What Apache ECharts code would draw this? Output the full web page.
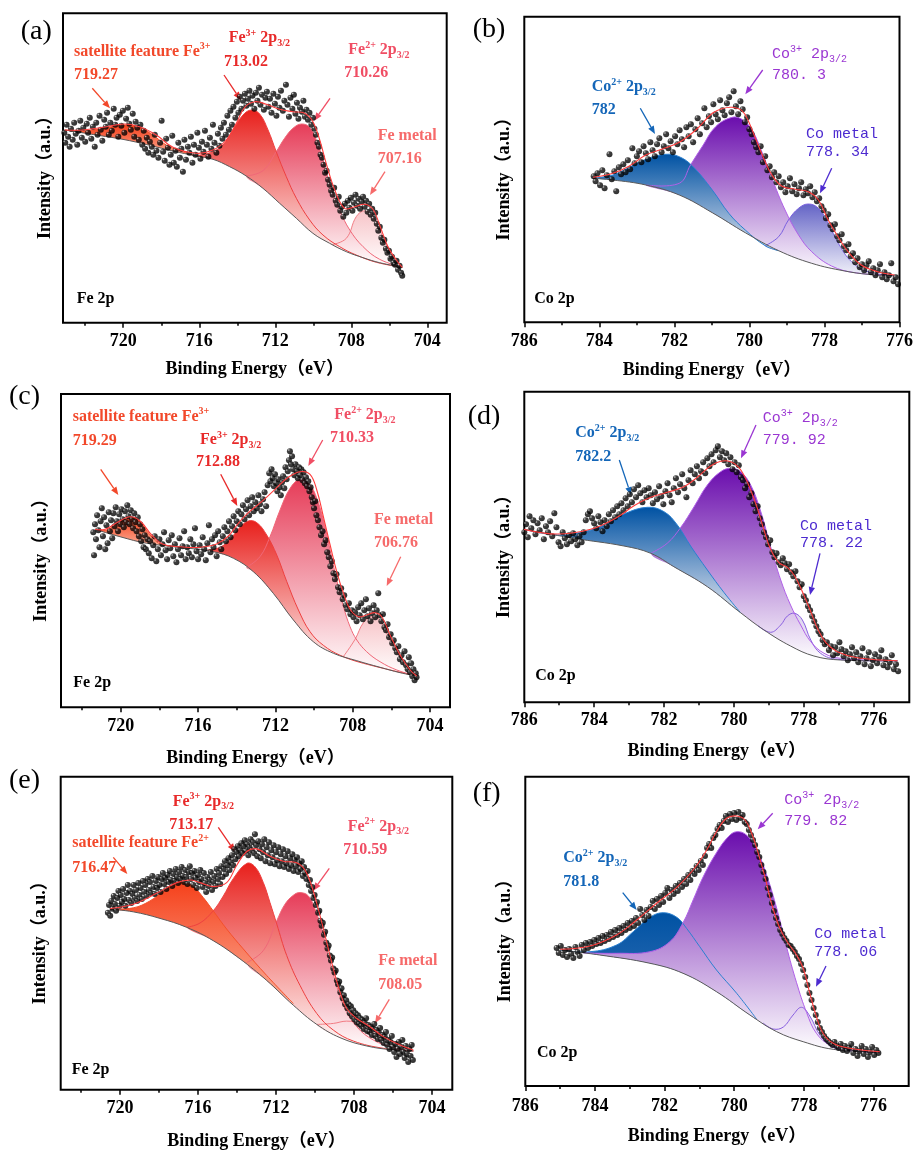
<!DOCTYPE html>
<html><head><meta charset="utf-8">
<script src="https://cdn.jsdelivr.net/npm/echarts@6/dist/echarts.min.js"></script>
<style>html,body{margin:0;padding:0;background:#fff}#c{width:916px;height:1151px}</style>
</head><body><div id="c"></div>
<script>
// ---------- tick labels ----------
const feTicks = [720, 716, 712, 708, 704];
const feMinor = [722, 718, 714, 710, 706];
const coTicks = [786, 784, 782, 780, 778, 776];
const coMinor = [785, 783, 781, 779, 777];

// ---------- panel (a) Fe 2p ----------
const aBg = [[723.08,192.7],[721.42,187.7],[719.66,182.0],[717.38,171.7],[716.16,166.7],[715.28,163.4],[714.40,156.0],[713.53,146.7],[712.65,134.4],[711.77,119.4],[710.89,104.4],[710.02,89.4],[709.14,79.4],[708.26,71.0],[707.38,65.0],[706.51,60.0],[705.32,55.4]];
const aSat = [[723.08,192.7],[722.12,191.7],[721.07,194.4],[719.93,197.7],[719.14,195.4],[718.44,187.7],[717.74,177.7],[717.03,172.0],[716.16,166.7]];
const aFe3 = [[716.16,166.7],[715.28,171.0],[714.75,177.7],[714.23,192.7],[713.70,207.7],[713.26,212.7],[712.82,208.7],[712.38,192.7],[711.95,171.0],[711.42,146.0],[710.89,124.4],[710.19,102.7],[709.49,87.7],[708.61,76.0],[707.74,67.7],[706.68,60.4],[705.32,55.4]];
const aFe2 = [[713.53,146.7],[712.65,152.0],[711.95,171.0],[711.51,184.4],[711.07,194.4],[710.63,198.7],[710.19,195.4],[709.84,182.7],[709.49,162.7],[709.14,139.4],[708.61,112.7],[708.08,92.7],[707.38,76.0],[706.51,63.4],[705.32,55.4]];
const aMet = [[709.00,78.1],[708.26,84.4],[707.74,106.0],[707.30,112.0],[706.86,106.7],[706.42,89.4],[705.98,71.0],[705.63,61.0],[705.32,55.4]];
const aEnv = [[723.08,192.7],[722.12,192.7],[721.07,195.4],[719.93,198.7],[719.14,196.0],[718.26,187.7],[717.38,175.4],[716.16,169.4],[715.28,172.7],[714.58,182.7],[714.05,199.4],[713.61,215.4],[713.08,221.0],[712.47,218.4],[711.77,213.4],[711.07,211.0],[710.45,209.4],[710.02,201.0],[709.66,182.7],[709.32,159.4],[708.87,132.7],[708.35,114.4],[707.82,116.0],[707.30,118.4],[706.86,113.4],[706.51,97.7],[706.07,76.0],[705.63,62.7],[705.32,55.4]];
const aPts = [[723.10,190],[723.05,180],[722.98,198],[722.9,186],[722.82,176],[722.75,194],[722.66,183],[722.58,200],[722.5,189],[722.42,178],[722.35,192],[722.26,202],[722.18,185],[722.1,195],[722.0,181],[721.92,199],[721.85,190],[721.76,205],[721.68,184],[721.6,196],[721.5,176],[721.42,200],[721.35,188],[721.25,207],[721.18,193],[721.1,182],[721.0,203],[720.92,196],[720.85,210],[720.76,188],[720.68,200],[720.6,192],[720.5,214],[720.42,198],[720.35,205],[720.26,186],[720.18,208],[720.1,197],[720.02,212],[719.94,190],[719.85,204],[719.76,215],[719.68,199],[719.6,193],[719.5,209],[719.42,186],[719.35,201],[719.26,195],[719.18,183],[719.1,198],[719.0,178],[718.92,192],[718.85,174],[718.76,185],[718.68,170],[718.6,181],[718.5,176],[718.42,168],[718.34,188],[718.25,172],[718.15,165],[718.06,180],[717.98,202],[717.9,171],[717.82,162],[717.74,184],[717.65,175],[717.57,158],[717.5,168],[717.42,187],[717.34,160],[717.25,172],[717.18,156],[717.1,180],[717.02,165],[716.94,174],[716.86,151],[716.78,183],[716.7,163],[716.6,176],[716.52,170],[716.44,186],[716.36,160],[716.28,178],[716.2,168],[716.1,190],[716.02,175],[715.94,164],[715.86,181],[715.78,171],[715.7,192],[715.6,178],[715.52,166],[715.44,185],[715.36,174],[715.28,198],[715.2,180],[715.1,170],[715.02,189],[714.94,177],[714.86,195],[714.78,184],[714.7,200],[714.6,188],[714.52,207],[714.44,193],[714.36,212],[714.28,198],[714.2,216],[714.1,205],[714.02,221],[713.94,210],[713.86,226],[713.78,214],[713.7,222],[713.6,229],[713.52,217],[713.44,224],[713.36,232],[713.28,219],[713.2,227],[713.1,214],[713.02,230],[712.94,222],[712.86,235],[712.78,218],[712.7,228],[712.6,213],[712.52,225],[712.44,231],[712.36,216],[712.28,224],[712.2,210],[712.1,229],[712.02,219],[711.94,207],[711.86,226],[711.78,215],[711.7,232],[711.6,212],[711.52,222],[711.44,238],[711.36,218],[711.28,206],[711.2,225],[711.1,214],[711.02,228],[710.94,209],[710.86,220],[710.78,204],[710.7,215],[710.6,211],[710.52,222],[710.44,206],[710.36,213],[710.28,203],[710.2,210],[710.1,198],[710.02,205],[709.94,194],[709.86,188],[709.78,180],[709.7,176],[709.62,168],[709.54,165],[709.46,158],[709.38,150],[709.3,152],[709.22,143],[709.14,138],[709.06,132],[708.98,128],[708.9,135],[708.82,122],[708.74,118],[708.66,126],[708.58,112],[708.5,116],[708.42,106],[708.34,119],[708.26,110],[708.18,122],[708.1,115],[708.02,125],[707.94,112],[707.86,120],[707.78,128],[707.7,117],[707.62,124],[707.54,114],[707.46,121],[707.38,126],[707.3,116],[707.22,122],[707.14,111],[707.06,119],[706.98,108],[706.9,114],[706.82,104],[706.74,110],[706.66,99],[706.58,92],[706.5,96],[706.42,85],[706.34,80],[706.26,83],[706.18,74],[706.1,70],[706.02,72],[705.94,64],[705.86,66],[705.78,60],[705.7,58],[705.62,62],[705.54,53],[705.46,57],[705.38,50],[705.32,47]];

// ---------- panel (b) Co 2p ----------
const bBg = [[784.17,144.0],[783.64,142.3],[782.76,137.3],[781.87,127.3],[780.99,109.6],[780.11,89.6],[779.22,71.6],[778.34,59.0],[777.46,51.3],[776.84,48.0],[776.13,46.6]];
const bCo2 = [[784.17,144.0],[783.64,147.3],[783.20,155.0],[782.76,163.0],[782.23,168.0],[781.87,165.6],[781.52,156.3],[780.99,132.3],[780.55,109.0],[780.11,92.3],[779.58,76.6],[779.22,71.6]];
const bCo3 = [[782.76,137.3],[781.87,139.0],[781.57,157.3],[781.26,175.6],[780.90,195.6],[780.46,205.0],[780.20,203.0],[779.93,192.3],[779.67,170.6],[779.40,144.0],[779.05,112.3],[778.69,87.3],[778.34,70.6],[777.81,56.3],[777.19,49.6],[776.13,46.6]];
const bMet = [[779.58,76.6],[779.22,85.6],[778.96,102.3],[778.69,114.0],[778.43,118.3],[778.16,114.0],[777.90,99.0],[777.63,79.0],[777.28,60.6],[776.84,50.6],[776.13,46.6]];
const bEnv = [[784.17,145.0],[783.64,149.0],[783.20,156.3],[782.76,167.3],[782.32,173.3],[781.87,180.0],[781.43,192.3],[780.99,209.0],[780.73,213.6],[780.46,215.0],[780.20,211.6],[780.02,200.6],[779.84,184.0],[779.62,164.0],[779.40,147.3],[779.14,136.3],[778.78,133.0],[778.43,130.6],[778.16,122.3],[777.90,102.3],[777.63,85.0],[777.37,70.6],[777.02,57.3],[776.58,50.6],[776.13,47.3]];
const bPts = [[784.15,146],[784.1,141],[784.05,149],[783.98,137],[783.92,152],[783.86,134],[783.8,147],[783.73,168],[783.67,143],[783.6,151],[783.55,131],[783.48,155],[783.42,148],[783.36,158],[783.3,150],[783.24,162],[783.18,153],[783.12,174],[783.06,159],[783.0,166],[782.94,171],[782.88,160],[782.82,176],[782.76,169],[782.7,163],[782.64,180],[782.58,172],[782.52,166],[782.46,178],[782.4,184],[782.34,170],[782.28,176],[782.22,188],[782.16,174],[782.1,181],[782.04,170],[781.98,186],[781.92,178],[781.86,192],[781.8,183],[781.74,175],[781.68,195],[781.62,186],[781.56,198],[781.5,180],[781.44,193],[781.38,204],[781.32,188],[781.26,199],[781.2,214],[781.14,195],[781.08,206],[781.02,200],[780.96,218],[780.9,208],[780.84,203],[780.78,222],[780.72,212],[780.66,207],[780.6,219],[780.54,225],[780.48,210],[780.42,231],[780.36,216],[780.3,208],[780.24,221],[780.18,213],[780.12,200],[780.06,205],[780.0,193],[779.94,188],[779.88,180],[779.82,175],[779.76,170],[779.7,176],[779.64,160],[779.58,166],[779.52,152],[779.46,156],[779.4,145],[779.34,150],[779.28,140],[779.22,146],[779.16,135],[779.1,140],[779.04,130],[778.98,136],[778.92,144],[778.86,131],[778.8,138],[778.74,128],[778.68,134],[778.62,140],[778.56,127],[778.5,133],[778.44,129],[778.38,136],[778.32,125],[778.26,130],[778.2,121],[778.14,124],[778.08,116],[778.02,112],[777.96,104],[777.9,108],[777.84,97],[777.78,93],[777.72,98],[777.66,86],[777.6,82],[777.54,88],[777.48,76],[777.42,72],[777.36,78],[777.3,66],[777.24,69],[777.18,60],[777.12,64],[777.06,55],[777.0,58],[776.94,52],[776.88,57],[776.82,61],[776.76,50],[776.7,54],[776.64,47],[776.58,52],[776.52,58],[776.46,45],[776.4,50],[776.34,43],[776.28,47],[776.22,59],[776.16,41],[776.1,45],[776.04,38]];

// ---------- panel (c) Fe 2p ----------
const cBg = [[721.33,178.0],[720.04,170.6],[718.65,164.0],[716.93,160.0],[715.21,155.6],[714.17,149.0],[713.14,135.6],[712.11,114.0],[711.07,87.3],[710.04,65.6],[709.00,54.0],[707.79,46.6],[706.59,40.0],[705.55,34.6],[704.69,31.3]];
const cSat = [[721.33,178.0],[720.72,177.3],[720.21,184.0],[719.69,188.6],[719.35,189.6],[719.00,185.6],[718.48,172.3],[717.97,163.3],[717.45,161.3]];
const cFe3 = [[715.56,157.0],[714.86,160.0],[714.35,168.0],[713.83,180.0],[713.40,186.3],[712.96,184.6],[712.45,172.3],[711.93,152.3],[711.41,125.6],[710.81,97.3],[710.21,75.6],[709.52,62.0],[708.65,52.0],[707.45,44.0],[704.69,31.3]];
const cFe2 = [[713.49,140.0],[712.80,150.6],[712.28,170.6],[711.76,197.3],[711.24,219.0],[710.72,228.0],[710.21,222.3],[709.86,209.0],[709.52,187.3],[709.17,157.3],[708.83,127.3],[708.48,100.6],[708.14,80.6],[707.79,67.3],[707.28,55.6],[706.59,45.6],[705.72,37.3],[704.69,31.3]];
const cMet = [[708.48,50.9],[707.88,68.0],[707.45,84.6],[707.02,90.6],[706.59,87.3],[706.16,70.6],[705.55,50.6],[705.03,37.3],[704.69,31.3]];
const cEnv = [[721.33,178.0],[720.81,178.0],[720.21,184.6],[719.52,190.6],[719.00,186.3],[718.40,172.3],[717.80,163.0],[716.93,160.6],[715.90,160.0],[715.04,163.3],[714.43,171.3],[713.92,184.0],[713.40,194.6],[712.71,205.6],[712.02,218.0],[711.33,230.0],[710.72,235.6],[710.21,233.0],[709.86,217.3],[709.52,190.6],[709.17,162.3],[708.83,135.6],[708.48,114.0],[708.14,98.0],[707.71,90.6],[707.28,92.3],[706.85,94.6],[706.50,90.6],[706.07,72.3],[705.55,52.3],[705.03,37.3],[704.69,31.3]];
const cPts = [[721.42,175],[721.38,152],[721.33,183],[721.28,168],[721.22,192],[721.16,177],[721.1,160],[721.04,186],[720.98,199],[720.92,171],[720.86,190],[720.8,158],[720.74,182],[720.68,164],[720.62,195],[720.56,176],[720.5,187],[720.44,169],[720.38,194],[720.32,181],[720.26,200],[720.2,186],[720.14,176],[720.08,193],[720.02,183],[719.96,198],[719.9,188],[719.84,180],[719.78,196],[719.72,185],[719.66,202],[719.6,191],[719.54,183],[719.48,197],[719.42,188],[719.36,179],[719.3,194],[719.24,185],[719.18,176],[719.12,190],[719.06,171],[719.0,183],[718.94,166],[718.88,178],[718.82,160],[718.76,172],[718.7,158],[718.62,168],[718.55,154],[718.48,166],[718.4,149],[718.32,162],[718.24,171],[718.16,146],[718.08,158],[718.0,168],[717.92,152],[717.84,163],[717.76,175],[717.68,157],[717.6,148],[717.52,167],[717.44,159],[717.36,172],[717.28,151],[717.2,163],[717.12,145],[717.04,158],[716.96,169],[716.88,152],[716.8,161],[716.72,176],[716.64,148],[716.56,160],[716.48,154],[716.4,168],[716.32,150],[716.24,163],[716.16,179],[716.08,156],[716.0,148],[715.92,162],[715.84,153],[715.76,170],[715.68,158],[715.6,147],[715.52,164],[715.44,182],[715.36,155],[715.28,168],[715.2,160],[715.12,172],[715.04,151],[714.96,176],[714.88,165],[714.8,158],[714.72,171],[714.64,180],[714.56,166],[714.48,176],[714.4,186],[714.32,170],[714.24,181],[714.16,191],[714.08,177],[714.0,186],[713.92,196],[713.84,183],[713.76,193],[713.68,202],[713.6,188],[713.52,198],[713.44,207],[713.36,192],[713.28,201],[713.2,210],[713.12,196],[713.04,205],[712.96,199],[712.88,212],[712.8,203],[712.72,196],[712.64,208],[712.56,215],[712.48,201],[712.4,222],[712.32,234],[712.26,226],[712.2,238],[712.14,229],[712.08,221],[712.02,233],[711.96,224],[711.9,216],[711.84,228],[711.78,220],[711.72,212],[711.66,225],[711.6,231],[711.54,219],[711.48,240],[711.42,228],[711.36,236],[711.3,247],[711.25,256],[711.2,243],[711.14,251],[711.08,238],[711.02,232],[710.96,243],[710.9,236],[710.84,229],[710.78,240],[710.72,232],[710.66,238],[710.6,227],[710.54,235],[710.48,224],[710.42,230],[710.36,221],[710.3,226],[710.24,216],[710.18,220],[710.12,210],[710.06,205],[710.0,199],[709.94,206],[709.88,192],[709.8,187],[709.72,180],[709.64,172],[709.56,176],[709.48,163],[709.4,167],[709.32,155],[709.24,150],[709.16,141],[709.08,146],[709.0,134],[708.92,128],[708.84,133],[708.76,120],[708.68,115],[708.6,119],[708.52,108],[708.44,112],[708.36,102],[708.28,98],[708.2,104],[708.12,93],[708.04,97],[707.96,90],[707.88,95],[707.8,86],[707.72,100],[707.64,92],[707.56,104],[707.48,88],[707.4,97],[707.32,108],[707.24,91],[707.16,99],[707.08,86],[707.0,94],[706.92,102],[706.84,90],[706.76,97],[706.68,114],[706.6,92],[706.52,86],[706.44,93],[706.36,80],[706.28,77],[706.2,83],[706.12,70],[706.04,73],[705.96,64],[705.88,67],[705.8,59],[705.72,55],[705.64,61],[705.56,48],[705.48,52],[705.4,45],[705.32,56],[705.24,42],[705.16,38],[705.1,50],[705.04,35],[704.98,44],[704.92,31],[704.86,38],[704.8,27],[704.74,34],[704.7,30]];

// ---------- panel (d) Co 2p ----------
const dBg = [[786.01,173.0],[784.58,164.0],[783.15,156.3],[782.38,149.0],[781.72,135.6],[780.76,115.6],[779.81,89.6],[779.14,72.3],[778.38,56.3],[777.71,46.3],[776.95,42.3],[775.32,41.6]];
const dCo2 = [[786.01,173.0],[785.06,167.3],[784.29,170.6],[783.72,177.3],[783.15,188.3],[782.48,195.0],[782.00,190.6],[781.62,177.3],[781.24,156.3],[780.76,132.3],[780.28,109.6],[779.81,89.6]];
const dCo3 = [[782.38,149.0],[781.91,159.0],[781.52,175.0],[781.14,195.6],[780.76,217.3],[780.38,230.6],[780.09,234.0],[779.81,230.6],[779.52,217.3],[779.23,190.6],[778.95,155.6],[778.66,122.3],[778.38,97.3],[778.09,77.3],[777.80,60.6],[777.42,49.0],[776.95,44.0],[775.32,41.6]];
const dMet = [[779.33,77.2],[778.95,70.0],[778.66,77.3],[778.47,86.3],[778.26,89.0],[778.04,82.3],[777.80,62.3],[777.52,49.0],[777.04,43.0],[775.32,41.6]];
const dEnv = [[786.01,173.0],[785.06,168.3],[784.10,173.0],[783.34,185.0],[782.86,196.6],[782.38,205.0],[781.91,210.0],[781.43,215.6],[781.05,225.0],[780.67,236.3],[780.38,241.0],[780.09,240.6],[779.86,235.0],[779.62,220.6],[779.33,194.0],[779.14,172.3],[778.95,153.0],[778.71,139.6],[778.47,135.0],[778.26,126.3],[778.04,110.6],[777.80,90.6],[777.61,74.0],[777.37,59.6],[777.04,50.6],[776.47,44.6],[775.32,41.6]];
const dPts = [[786.0,170],[785.95,178],[785.9,165],[785.85,186],[785.8,174],[785.74,182],[785.68,168],[785.62,179],[785.56,172],[785.5,184],[785.44,163],[785.38,176],[785.32,170],[785.26,181],[785.2,166],[785.14,189],[785.08,175],[785.02,160],[784.96,156],[784.9,170],[784.84,164],[784.78,158],[784.72,167],[784.66,161],[784.6,169],[784.54,163],[784.48,157],[784.42,166],[784.36,160],[784.3,170],[784.24,182],[784.18,188],[784.12,191],[784.06,184],[784.0,179],[783.94,174],[783.88,186],[783.82,180],[783.76,171],[783.7,182],[783.64,176],[783.58,188],[783.52,181],[783.46,192],[783.4,185],[783.34,196],[783.28,188],[783.22,199],[783.16,192],[783.1,204],[783.04,196],[782.98,208],[782.92,200],[782.86,213],[782.8,205],[782.74,217],[782.68,209],[782.62,200],[782.56,212],[782.5,205],[782.44,214],[782.38,207],[782.32,199],[782.26,210],[782.2,203],[782.14,216],[782.08,206],[782.02,198],[781.96,211],[781.9,219],[781.84,207],[781.78,200],[781.72,214],[781.66,224],[781.6,210],[781.54,218],[781.48,228],[781.42,214],[781.36,205],[781.3,222],[781.24,232],[781.18,219],[781.12,228],[781.06,236],[781.0,224],[780.94,231],[780.88,240],[780.82,229],[780.76,244],[780.7,236],[780.64,248],[780.58,240],[780.52,252],[780.46,256],[780.4,245],[780.34,251],[780.28,242],[780.22,249],[780.16,238],[780.1,245],[780.04,233],[779.98,240],[779.92,230],[779.86,237],[779.8,225],[779.74,222],[779.68,214],[779.62,218],[779.56,205],[779.5,209],[779.44,198],[779.38,191],[779.32,196],[779.26,184],[779.2,178],[779.14,170],[779.08,165],[779.02,158],[778.96,162],[778.9,150],[778.84,145],[778.78,149],[778.72,140],[778.66,137],[778.6,144],[778.54,139],[778.48,133],[778.42,138],[778.36,130],[778.3,126],[778.24,131],[778.18,121],[778.12,115],[778.06,118],[778.0,106],[777.94,102],[777.88,96],[777.82,92],[777.76,86],[777.7,81],[777.64,76],[777.58,71],[777.52,68],[777.46,62],[777.4,58],[777.34,60],[777.28,52],[777.22,56],[777.16,47],[777.1,55],[777.04,49],[776.98,60],[776.92,53],[776.86,46],[776.8,51],[776.74,42],[776.68,48],[776.62,55],[776.56,44],[776.5,50],[776.44,40],[776.38,46],[776.32,54],[776.26,38],[776.2,44],[776.14,50],[776.08,36],[776.02,42],[775.96,48],[775.9,39],[775.84,45],[775.78,52],[775.72,37],[775.66,43],[775.6,35],[775.54,40],[775.48,47],[775.42,33],[775.36,38],[775.3,31]];

// ---------- panel (e) Fe 2p ----------
const eBg = [[720.51,181.7],[719.32,179.0],[717.95,172.4],[716.58,163.4],[715.22,150.0],[713.85,131.7],[712.48,110.0],[711.11,85.0],[709.91,65.7],[708.72,52.4],[707.35,44.0],[705.98,40.0],[704.96,39.0]];
const eSat = [[720.51,181.7],[719.32,183.0],[718.46,190.0],[717.78,200.0],[717.18,207.7],[716.75,209.0],[716.24,204.4],[715.73,193.4],[715.22,180.0],[714.53,161.7],[713.68,141.7],[712.48,115.0],[711.11,86.7]];
const eFe3 = [[716.58,163.4],[715.90,167.7],[715.22,180.0],[714.70,195.0],[714.19,212.4],[713.50,227.7],[713.08,224.4],[712.65,208.4],[712.31,188.4],[711.96,166.7],[711.45,135.0],[710.77,105.0],[709.91,76.7],[709.06,60.0],[708.04,49.0],[706.50,41.7],[704.96,39.0]];
const eFe2 = [[713.50,128.0],[712.65,140.0],[711.96,170.0],[711.54,186.7],[711.11,195.7],[710.77,198.4],[710.34,195.0],[710.00,181.7],[709.66,161.7],[709.32,135.0],[708.97,110.0],[708.55,85.0],[707.86,63.4],[707.01,50.0],[705.98,42.4],[704.96,39.0]];
const eMet = [[709.91,65.7],[709.06,66.7],[708.38,69.0],[707.69,66.7],[707.01,61.0],[706.32,52.4],[705.64,45.0],[704.96,39.0]];
const eEnv = [[720.51,182.4],[719.32,186.7],[718.12,197.7],[717.09,208.4],[716.41,211.0],[715.90,208.4],[715.22,204.4],[714.53,208.4],[714.02,225.7],[713.50,239.7],[712.99,242.4],[712.31,235.0],[711.62,230.0],[710.94,228.4],[710.51,221.0],[710.17,205.0],[709.83,181.7],[709.40,148.4],[709.06,121.7],[708.72,98.4],[708.38,81.7],[707.86,71.7],[707.18,63.4],[706.50,53.4],[705.64,45.0],[704.96,40.0]];
const ePts = [[720.62,178],[720.56,186],[720.5,175],[720.44,190],[720.38,182],[720.32,195],[720.26,187],[720.2,180],[720.14,193],[720.08,200],[720.02,185],[719.96,196],[719.9,189],[719.84,202],[719.78,192],[719.72,185],[719.66,198],[719.6,206],[719.54,191],[719.48,200],[719.42,188],[719.36,197],[719.3,206],[719.24,193],[719.18,201],[719.12,190],[719.06,208],[719.0,196],[718.94,203],[718.88,192],[718.82,210],[718.76,199],[718.7,206],[718.64,195],[718.58,212],[718.52,201],[718.46,209],[718.4,198],[718.34,215],[718.28,204],[718.22,197],[718.16,210],[718.1,203],[718.04,214],[717.98,206],[717.92,199],[717.86,212],[717.8,218],[717.74,207],[717.68,213],[717.62,202],[717.56,216],[717.5,209],[717.44,220],[717.38,211],[717.32,205],[717.26,217],[717.2,210],[717.14,222],[717.08,214],[717.02,208],[716.96,219],[716.9,212],[716.84,224],[716.78,215],[716.72,209],[716.66,221],[716.6,214],[716.54,207],[716.48,219],[716.42,225],[716.36,212],[716.3,218],[716.24,206],[716.18,220],[716.12,213],[716.06,203],[716.0,216],[715.94,209],[715.88,221],[715.82,212],[715.76,204],[715.7,218],[715.64,208],[715.58,199],[715.52,214],[715.46,205],[715.4,211],[715.34,219],[715.28,201],[715.22,209],[715.16,215],[715.1,205],[715.04,222],[714.98,212],[714.92,218],[714.86,207],[714.8,225],[714.74,214],[714.68,222],[714.62,230],[714.56,217],[714.5,226],[714.44,233],[714.38,221],[714.32,229],[714.26,236],[714.2,226],[714.14,242],[714.08,232],[714.02,239],[713.96,245],[713.9,235],[713.84,241],[713.78,248],[713.72,238],[713.66,245],[713.6,251],[713.54,240],[713.48,247],[713.42,236],[713.36,244],[713.3,252],[713.24,241],[713.18,249],[713.12,238],[713.08,257],[713.02,246],[712.96,235],[712.9,250],[712.84,242],[712.78,233],[712.72,247],[712.66,239],[712.6,252],[712.54,230],[712.48,244],[712.42,236],[712.36,249],[712.3,228],[712.24,241],[712.18,234],[712.12,246],[712.06,227],[712.0,239],[711.94,231],[711.88,244],[711.82,225],[711.76,237],[711.7,230],[711.64,242],[711.58,224],[711.52,235],[711.46,228],[711.4,240],[711.34,222],[711.28,233],[711.22,226],[711.16,237],[711.1,220],[711.04,231],[710.98,225],[710.92,234],[710.86,219],[710.8,228],[710.74,222],[710.68,230],[710.62,215],[710.56,224],[710.5,218],[710.44,212],[710.38,220],[710.32,206],[710.26,211],[710.2,200],[710.14,204],[710.08,193],[710.02,196],[709.96,186],[709.9,189],[709.84,178],[709.78,180],[709.72,170],[709.66,165],[709.6,168],[709.54,156],[709.48,159],[709.42,148],[709.36,142],[709.3,145],[709.24,135],[709.18,130],[709.12,133],[709.06,122],[709.0,118],[708.94,120],[708.88,110],[708.82,106],[708.76,109],[708.7,98],[708.64,102],[708.58,92],[708.52,95],[708.46,86],[708.4,90],[708.34,82],[708.28,86],[708.22,77],[708.16,84],[708.1,74],[708.04,80],[707.98,71],[707.92,77],[707.86,68],[707.8,75],[707.74,66],[707.68,72],[707.62,64],[707.56,70],[707.5,61],[707.44,67],[707.38,72],[707.32,59],[707.26,65],[707.2,58],[707.14,63],[707.08,55],[707.02,61],[706.96,66],[706.9,54],[706.84,60],[706.78,51],[706.72,57],[706.66,62],[706.6,50],[706.54,55],[706.48,47],[706.42,53],[706.36,58],[706.3,45],[706.24,50],[706.18,41],[706.12,48],[706.06,54],[706.0,43],[705.94,38],[705.88,46],[705.82,33],[705.76,41],[705.7,48],[705.64,36],[705.58,43],[705.52,50],[705.46,38],[705.4,32],[705.34,44],[705.28,36],[705.22,28],[705.16,41],[705.1,34],[705.04,45],[704.98,30]];

// ---------- panel (f) Co 2p ----------
const fBg = [[785.00,136.0],[783.86,131.0],[782.42,122.7],[781.47,112.7],[780.51,94.3],[779.55,71.0],[778.78,54.3],[778.02,44.3],[777.16,36.7],[775.82,33.7]];
const fCo2 = [[785.00,136.0],[784.14,134.3],[783.38,141.0],[782.90,154.3],[782.42,168.7],[782.04,173.3],[781.65,168.7],[781.37,157.7],[780.99,139.3],[780.51,116.0],[779.93,92.7],[779.36,67.0]];
const fCo3 = [[784.34,133.1],[783.38,132.7],[782.42,134.3],[781.85,144.3],[781.47,163.3],[781.18,186.0],[780.89,209.3],[780.51,233.3],[780.17,249.3],[779.93,254.3],[779.65,251.0],[779.36,236.7],[779.07,211.0],[778.78,177.7],[778.50,139.3],[778.21,103.3],[777.92,73.3],[777.64,52.7],[777.25,41.0],[776.68,36.0],[775.82,33.7]];
const fMet = [[779.17,63.0],[778.88,57.0],[778.59,59.0],[778.31,71.0],[778.07,78.7],[777.83,70.0],[777.54,51.0],[777.16,38.7],[776.68,35.0],[775.82,33.7]];
const fEnv = [[785.00,136.7],[784.14,140.0],[783.38,151.0],[782.80,166.0],[782.23,182.7],[781.65,198.7],[781.18,216.0],[780.79,236.0],[780.51,254.3],[780.22,267.7],[779.93,270.0],[779.69,266.0],[779.50,252.7],[779.31,232.7],[779.12,209.3],[778.93,182.7],[778.69,157.7],[778.45,142.7],[778.21,131.0],[778.02,117.7],[777.83,92.7],[777.64,69.3],[777.45,52.7],[777.16,42.7],[776.68,37.7],[775.82,34.3]];
const fPts = [[785.1,138],[785.04,133],[784.98,140],[784.92,131],[784.86,136],[784.8,129],[784.74,137],[784.68,132],[784.62,128],[784.56,139],[784.5,134],[784.44,130],[784.38,141],[784.32,136],[784.26,143],[784.2,138],[784.14,144],[784.08,140],[784.02,146],[783.96,142],[783.9,148],[783.84,143],[783.78,150],[783.72,145],[783.66,151],[783.6,147],[783.54,154],[783.48,149],[783.42,156],[783.36,151],[783.3,158],[783.24,153],[783.18,160],[783.12,156],[783.06,163],[783.0,158],[782.94,165],[782.88,160],[782.82,168],[782.76,163],[782.7,177],[782.64,171],[782.58,166],[782.52,176],[782.46,170],[782.4,179],[782.34,185],[782.28,177],[782.22,187],[782.16,181],[782.1,190],[782.04,184],[781.98,193],[781.92,198],[781.86,188],[781.8,196],[781.74,192],[781.68,200],[781.62,195],[781.56,203],[781.5,199],[781.44,207],[781.38,202],[781.32,211],[781.26,206],[781.2,215],[781.14,212],[781.08,220],[781.02,216],[780.96,225],[780.9,221],[780.84,230],[780.78,238],[780.72,242],[780.66,238],[780.6,248],[780.54,251],[780.48,257],[780.42,261],[780.36,258],[780.3,265],[780.24,270],[780.18,264],[780.12,272],[780.06,267],[780.0,273],[779.94,266],[779.88,274],[779.82,268],[779.76,271],[779.7,264],[779.64,262],[779.58,256],[779.52,251],[779.46,246],[779.4,241],[779.34,234],[779.28,229],[779.22,221],[779.16,214],[779.1,207],[779.04,198],[778.98,191],[778.92,183],[778.86,175],[778.8,168],[778.74,162],[778.68,156],[778.62,152],[778.56,148],[778.5,145],[778.44,141],[778.38,140],[778.32,137],[778.26,134],[778.2,130],[778.14,127],[778.08,122],[778.02,116],[777.96,109],[777.9,101],[777.84,93],[777.78,86],[777.72,78],[777.66,71],[777.6,64],[777.54,58],[777.48,54],[777.42,50],[777.36,47],[777.3,45],[777.24,43],[777.18,41],[777.12,44],[777.06,40],[777.0,38],[776.94,42],[776.88,36],[776.82,40],[776.76,35],[776.7,38],[776.64,42],[776.58,33],[776.52,37],[776.46,30],[776.4,35],[776.34,40],[776.28,32],[776.22,37],[776.16,29],[776.1,34],[776.04,39],[775.98,31],[775.92,36],[775.86,33]];

// ---------- styles ----------
const SERIF = "'Liberation Serif','Times New Roman','Noto Sans CJK SC',serif";
const MONO = "'Liberation Mono','DejaVu Sans Mono',monospace";
const SM = 0.4;
const PK = {
  sat: {top:'#f5401a', bot:'#fbae98', line:'#f5502a'},
  fe3: {top:'#e8201c', bot:'#ffffff', line:'#ee4040'},
  fe2: {top:'#e63c58', bot:'#ffffff', line:'#f06878'},
  feM: {top:'#f7c4c8', bot:'#ffffff', line:'#f27c84'},
  co2: {top:'#0052a3', bot:'#dde2ee', line:'#2a80d0'},
  co2f:{top:'#0052a3', bot:'#3a74b8', line:'#2a80d0'},
  co3: {top:'#6a0dad', bot:'#ffffff', line:'#b060e8'},
  coMb:{top:'#6464c6', bot:'#f2f2fa', line:'#7a60e0'},
  coM: {top:'#dcd4ee', bot:'#f6f4fa', line:'#8a60e0'}
};

const panels = [
  {g:{left:63,top:13.3,width:383.7,height:309.4}, xmin:702.98, xmax:723.17, major:feTicks, minor:feMinor,
   bg:aBg, env:aEnv, pts:aPts, peaks:[[aMet,PK.feM],[aFe2,PK.fe2],[aFe3,PK.fe3],[aSat,PK.sat]], lm:10, ng:38, yg:9},
  {g:{left:524.3,top:16.7,width:377.4,height:305.6}, xmin:776, xmax:786, major:coTicks, minor:coMinor,
   bg:bBg, env:bEnv, pts:bPts, peaks:[[bMet,PK.coMb],[bCo3,PK.co3],[bCo2,PK.co2]], lm:10.4, ng:38.7, yg:11},
  {g:{left:61,top:394,width:389,height:313.3}, xmin:702.97, xmax:723.09, major:feTicks, minor:feMinor,
   bg:cBg, env:cEnv, pts:cPts, peaks:[[cMet,PK.feM],[cFe2,PK.fe2],[cFe3,PK.fe3],[cSat,PK.sat]], lm:10.4, ng:41.7, yg:11},
  {g:{left:524.3,top:391.7,width:385,height:310.6}, xmin:774.98, xmax:786, major:coTicks, minor:coMinor,
   bg:dBg, env:dEnv, pts:dPts, peaks:[[dMet,PK.coM],[dCo3,PK.co3],[dCo2,PK.co2]], lm:9.4, ng:40.4, yg:11},
  {g:{left:60.7,top:776.7,width:391.6,height:315}, xmin:702.96, xmax:723.04, major:feTicks, minor:feMinor,
   bg:eBg, env:eEnv, pts:ePts, peaks:[[eMet,PK.feM],[eFe2,PK.fe2],[eFe3,PK.fe3],[eSat,PK.sat]], lm:10, ng:42.3, yg:11},
  {g:{left:525.3,top:776.7,width:383.4,height:309.3}, xmin:774.99, xmax:786, major:coTicks, minor:coMinor,
   bg:fBg, env:fEnv, pts:fPts, peaks:[[fMet,PK.coM],[fCo2,PK.co2f],[fCo3,PK.co3]], lm:11, ng:41.7, yg:11}
];

function fillItem(top, bg, c0, c1) {
  return function (params, api) {
    const a = top[0][0], b = top[top.length - 1][0];
    const hi = Math.max(a, b), lo = Math.min(a, b);
    const upper = top.map(p => api.coord(p));
    const lower = bg.filter(p => p[0] < hi - 0.01 && p[0] > lo + 0.01).map(p => api.coord(p)).reverse();
    return {type:'polygon', shape:{points: upper.concat(lower), smooth: SM},
      style:{fill: new echarts.graphic.LinearGradient(0,0,0,1,[{offset:0,color:c0},{offset:1,color:c1}]), stroke:'none'}};
  };
}
function lineItem(arr, color, w) {
  return function (params, api) {
    return {type:'polyline', shape:{points: arr.map(p => api.coord(p)), smooth: SM},
      style:{stroke: color, lineWidth: w, fill: 'none'}};
  };
}
const ball = new echarts.graphic.RadialGradient(0.3, 0.28, 0.7, [
  {offset:0, color:'#e8e8e8'}, {offset:0.1, color:'#8a8a8a'}, {offset:0.32, color:'#111'}, {offset:1, color:'#000'}]);

const grids = [], xAxes = [], yAxes = [], series = [];
panels.forEach((P, i) => {
  grids.push(Object.assign({show:true, borderColor:'#000', borderWidth:2, backgroundColor:'transparent', containLabel:false}, P.g));
  xAxes.push({gridIndex:i, type:'value', min:P.xmin, max:P.xmax, inverse:true, position:'bottom',
    axisLine:{show:false}, splitLine:{show:false},
    axisTick:{show:true, customValues:P.major, inside:false, length:5, lineStyle:{color:'#000', width:1.5}},
    axisLabel:{show:true, customValues:P.major, margin:P.lm, color:'#000', fontFamily:SERIF, fontWeight:'bold', fontSize:18},
    name:'Binding Energy（eV）', nameLocation:'middle', nameGap:P.ng,
    nameTextStyle:{color:'#000', fontFamily:SERIF, fontWeight:'bold', fontSize:18}});
  xAxes.push({gridIndex:i, type:'value', min:P.xmin, max:P.xmax, inverse:true, position:'bottom',
    axisLine:{show:false}, splitLine:{show:false}, axisLabel:{show:false},
    axisTick:{show:true, customValues:P.minor, inside:false, length:3, lineStyle:{color:'#000', width:1.5}}});
  yAxes.push({gridIndex:i, type:'value', min:0, max:P.g.height,
    axisLine:{show:false}, axisTick:{show:false}, axisLabel:{show:false}, splitLine:{show:false},
    name:'Intensity（a.u.）', nameLocation:'middle', nameGap:P.yg, nameRotate:90,
    nameTextStyle:{color:'#000', fontFamily:SERIF, fontWeight:'bold', fontSize:18, padding:[0,0,0,-10]}});
  const xi = 2 * i;
  P.peaks.forEach(([d, s]) => {
    series.push({type:'custom', xAxisIndex:xi, yAxisIndex:i, data:[[0,0]], silent:true, clip:true, z:2,
      renderItem: fillItem(d, P.bg, s.top, s.bot)});
  });
  P.peaks.forEach(([d, s]) => {
    series.push({type:'custom', xAxisIndex:xi, yAxisIndex:i, data:[[0,0]], silent:true, clip:true, z:3,
      renderItem: lineItem(d, s.line, 1)});
  });
  series.push({type:'custom', xAxisIndex:xi, yAxisIndex:i, data:[[0,0]], silent:true, clip:true, z:4,
    renderItem: lineItem(P.bg, '#5a5a5a', 1)});
  series.push({type:'scatter', xAxisIndex:xi, yAxisIndex:i, data:P.pts, symbol:'circle', symbolSize:6,
    itemStyle:{color: ball}, silent:true, z:5});
  series.push({type:'custom', xAxisIndex:xi, yAxisIndex:i, data:[[0,0]], silent:true, clip:true, z:6,
    renderItem: lineItem(P.env, '#ff3c3c', 1.1)});
});

// ---------- annotations ----------
function rich(color, kind) {
  const fam = kind === 'm' ? MONO : SERIF;
  const fw = kind === 'm' ? 'normal' : 'bold';
  const fs = kind === 'm' ? 15 : 16;
  return {
    n:{fill:color, fontFamily:fam, fontWeight:fw, fontSize:fs, lineHeight:20},
    p:{fill:color, fontFamily:fam, fontWeight:fw, fontSize:10, lineHeight:10, verticalAlign:'top'},
    b:{fill:color, fontFamily:fam, fontWeight:fw, fontSize:10, lineHeight:10, verticalAlign:'bottom'}
  };
}
function lab(x, y, text, color, kind) {
  return {type:'text', x:x, y:y, z:100, silent:true,
    style:{text:text, rich:rich(color, kind), fill:color, align:'left', verticalAlign:'middle',
      fontFamily: kind === 'm' ? MONO : SERIF, fontSize: 16, fontWeight: kind === 'm' ? 'normal' : 'bold'}};
}
function plain(x, y, text, size, weight) {
  return {type:'text', x:x, y:y, z:100, silent:true,
    style:{text:text, fill:'#000', align:'left', verticalAlign:'middle', fontFamily:SERIF, fontSize:size, fontWeight:weight}};
}
function arrow(x1, y1, x2, y2, c) {
  const dx = x2 - x1, dy = y2 - y1, L = Math.hypot(dx, dy), ux = dx / L, uy = dy / L, h = 8, w = 3.2;
  const bx = x2 - ux * h, by = y2 - uy * h;
  return {type:'group', silent:true, z:100, children:[
    {type:'line', shape:{x1:x1, y1:y1, x2:bx, y2:by}, style:{stroke:c, lineWidth:1.3}},
    {type:'polygon', shape:{points:[[x2,y2],[bx - uy*w, by + ux*w],[bx + uy*w, by - ux*w]]}, style:{fill:c}}
  ]};
}
const C = {sat:'#f2482a', fe3:'#e82a2a', fe2:'#f04e64', feM:'#f66a6a', co2:'#1466b8', co3:'#9a36d2', coM:'#4c2ad0'};
const FE3 = '{n|Fe}{p|3+}{n| 2p}{b|3/2}', FE2 = '{n|Fe}{p|2+}{n| 2p}{b|3/2}';
const CO2 = '{n|Co}{p|2+}{n| 2p}{b|3/2}', CO3 = '{n|Co}{p|3+}{n| 2p}{b|3/2}';
const graphics = [
  plain(20.7, 32, '(a)', 28, 'normal'), plain(472.7, 30, '(b)', 28, 'normal'),
  plain(9, 397, '(c)', 28, 'normal'), plain(467.7, 417, '(d)', 28, 'normal'),
  plain(9, 781, '(e)', 28, 'normal'), plain(472.7, 794, '(f)', 28, 'normal'),
  plain(76.7, 299, 'Fe 2p', 16, 'bold'), plain(534.3, 299.3, 'Co 2p', 16, 'bold'),
  plain(73.3, 683.3, 'Fe 2p', 16, 'bold'), plain(535.3, 676, 'Co 2p', 16, 'bold'),
  plain(71.7, 1070, 'Fe 2p', 16, 'bold'), plain(537, 1053.3, 'Co 2p', 16, 'bold'),
  // (a)
  lab(74, 51.7, '{n|satellite feature Fe}{p|3+}', C.sat, 'b'), lab(74, 75, '{n|719.27}', C.sat, 'b'),
  lab(228.7, 38.3, FE3, C.fe3, 'b'), lab(224, 61.7, '{n|713.02}', C.fe3, 'b'),
  lab(348.3, 50, FE2, C.fe2, 'b'), lab(344.3, 72.7, '{n|710.26}', C.fe2, 'b'),
  lab(377.7, 136, '{n|Fe metal}', C.feM, 'b'), lab(377.7, 159.3, '{n|707.16}', C.feM, 'b'),
  arrow(92.3, 88.3, 110, 108.3, C.sat), arrow(224, 75, 240.7, 100, C.fe3),
  arrow(330, 98.3, 314.3, 120.7, C.fe2), arrow(385, 171.7, 370, 195, C.feM),
  // (b)
  lab(591.7, 87.3, CO2, C.co2, 'b'), lab(591.7, 110, '{n|782}', C.co2, 'b'),
  lab(772, 54, CO3, C.co3, 'm'), lab(772, 75, '{n|780. 3}', C.co3, 'm'),
  lab(806, 134.3, '{n|Co metal}', C.coM, 'm'), lab(806, 151.7, '{n|778. 34}', C.coM, 'm'),
  arrow(640.3, 108.3, 655, 134, C.co2), arrow(762.7, 70, 745.3, 94.3, C.co3), arrow(831.7, 168.3, 820, 193.3, C.coM),
  // (c)
  lab(72.7, 416.7, '{n|satellite feature Fe}{p|3+}', C.sat, 'b'), lab(72.7, 440.7, '{n|719.29}', C.sat, 'b'),
  lab(200, 440, FE3, C.fe3, 'b'), lab(196, 462.3, '{n|712.88}', C.fe3, 'b'),
  lab(334.3, 415, FE2, C.fe2, 'b'), lab(330, 438.3, '{n|710.33}', C.fe2, 'b'),
  lab(374, 520, '{n|Fe metal}', C.feM, 'b'), lab(374, 543.3, '{n|706.76}', C.feM, 'b'),
  arrow(100.7, 469.3, 118.3, 495, C.sat), arrow(220.7, 474.3, 237.3, 506, C.fe3),
  arrow(322.7, 440, 308.3, 466, C.fe2), arrow(400.7, 556.7, 386.7, 586, C.feM),
  // (d)
  lab(575.3, 433.3, CO2, C.co2, 'b'), lab(575.3, 456.7, '{n|782.2}', C.co2, 'b'),
  lab(762.7, 418.3, CO3, C.co3, 'm'), lab(762.7, 440, '{n|779. 92}', C.co3, 'm'),
  lab(800, 525.7, '{n|Co metal}', C.coM, 'm'), lab(800, 543.3, '{n|778. 22}', C.coM, 'm'),
  arrow(619.3, 460, 631, 495, C.co2), arrow(756, 425, 741, 458.3, C.co3), arrow(820, 553.3, 810, 595, C.coM),
  // (e)
  lab(172.7, 801.7, FE3, C.fe3, 'b'), lab(169.3, 825, '{n|713.17}', C.fe3, 'b'),
  lab(72.3, 843.3, '{n|satellite feature Fe}{p|2+}', C.sat, 'b'), lab(72.3, 868.3, '{n|716.47}', C.sat, 'b'),
  lab(347.7, 826.7, FE2, C.fe2, 'b'), lab(343.3, 850, '{n|710.59}', C.fe2, 'b'),
  lab(378.3, 960.7, '{n|Fe metal}', C.feM, 'b'), lab(378.3, 985, '{n|708.05}', C.feM, 'b'),
  arrow(218.3, 827.3, 235, 851.7, C.fe3), arrow(113.3, 857.3, 127.3, 874, C.sat),
  arrow(329.3, 868.3, 313.3, 890.7, C.fe2), arrow(389.3, 999.3, 375, 1023.3, C.feM),
  // (f)
  lab(563.3, 858.3, CO2, C.co2, 'b'), lab(563.3, 881.7, '{n|781.8}', C.co2, 'b'),
  lab(784.3, 800, CO3, C.co3, 'm'), lab(784.3, 820.7, '{n|779. 82}', C.co3, 'm'),
  lab(814.3, 934.3, '{n|Co metal}', C.coM, 'm'), lab(814.3, 951.7, '{n|778. 06}', C.coM, 'm'),
  arrow(622.7, 892.7, 636.7, 910, C.co2), arrow(772.7, 813.3, 757.7, 829.3, C.co3), arrow(826, 966, 816, 986.7, C.coM)
];

const chart = echarts.init(document.getElementById('c'), null, {renderer:'canvas'});
chart.setOption({animation:false, backgroundColor:'#fff', grid:grids, xAxis:xAxes, yAxis:yAxes, series:series, graphic:graphics});
</script></body></html>
